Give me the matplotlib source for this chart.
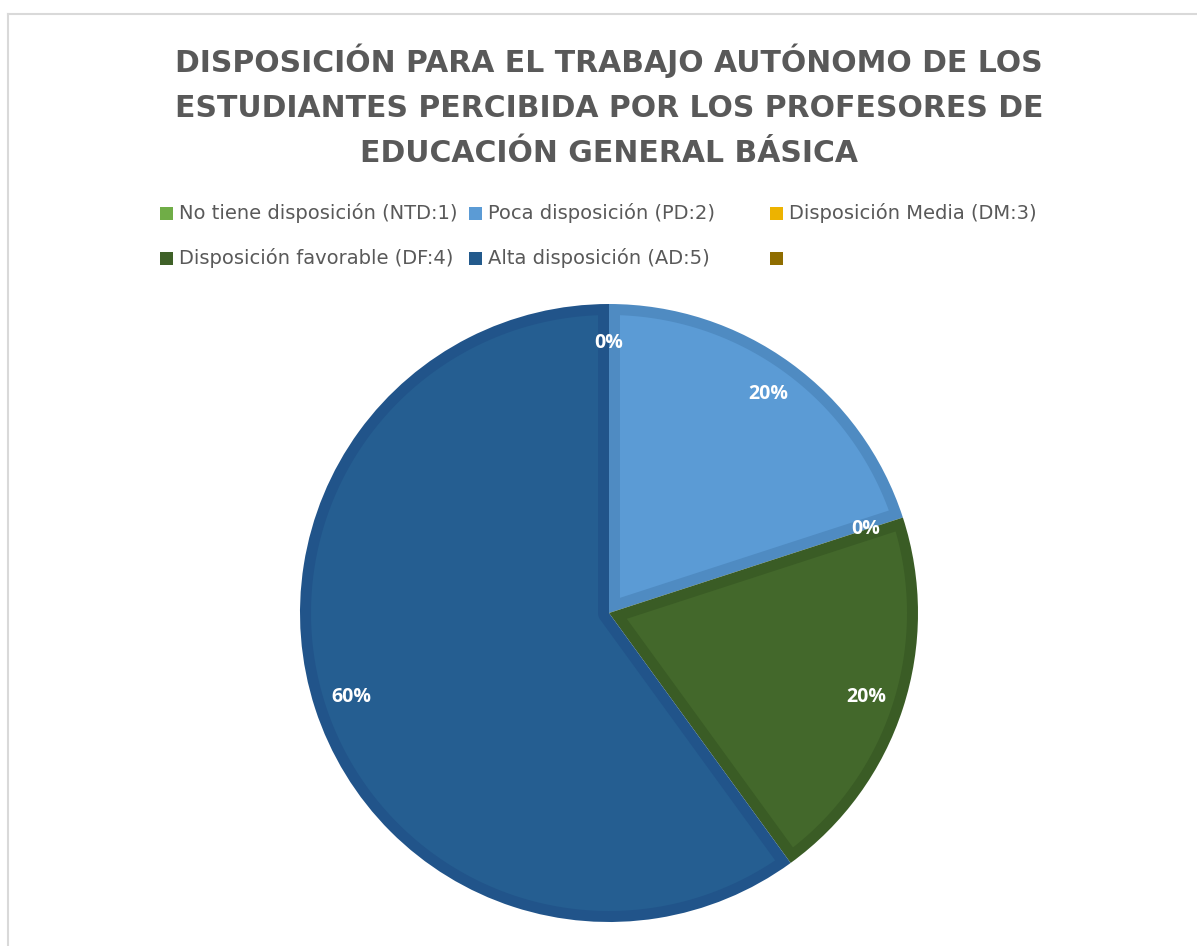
import numpy as np
import matplotlib.pyplot as plt
from matplotlib.patches import Rectangle, Polygon
from matplotlib.lines import Line2D

# Data
categories = ['No tiene disposición (NTD:1)', 'Poca disposición (PD:2)', 'Disposición Media (DM:3)',
              'Disposición favorable (DF:4)', 'Alta disposición (AD:5)', '']
values = [0, 20, 0, 20, 60, 0]
show_label = [True, True, True, True, True, False]

colors = ['#70AD47', '#5B9BD5', '#FFC000', '#43682B', '#255E91', '#8F6D00']
band_colors = ['#62993D', '#4F8BC2', '#E0A800', '#3A5C25', '#21548A', '#7A5D00']
legend_colors = ['#70AD47', '#5B9BD5', '#EDB300', '#3F6128', '#235A8C', '#8F6D00']

W, H = 1197, 946
fig = plt.figure(figsize=(W / 100, H / 100), dpi=100)
fig.patch.set_facecolor('white')

# chart frame (left and top edge visible)
fig.add_artist(Line2D([8 / W, 8 / W], [0, 1 - 14 / H], color='#D9D9D9', lw=1.5))
fig.add_artist(Line2D([8 / W, 1], [1 - 14 / H, 1 - 14 / H], color='#D9D9D9', lw=1.5))

# title
fig.text(609 / W, 1 - 106 / H,
         'DISPOSICIÓN PARA EL TRABAJO AUTÓNOMO DE LOS\nESTUDIANTES PERCIBIDA POR LOS PROFESORES DE\nEDUCACIÓN GENERAL BÁSICA',
         ha='center', va='center', fontsize=21.5, fontweight='bold',
         color='#595959', family='DejaVu Sans', linespacing=1.7)

# legend, drawn by hand to match the spreadsheet layout
col_x = [160, 469, 770]
row_y = [213, 258]
for i, (lab, col) in enumerate(zip(categories, legend_colors)):
    r, c = divmod(i, 3)
    x0, y0 = col_x[c], row_y[r]
    fig.add_artist(Rectangle((x0 / W, 1 - (y0 + 7) / H), 13 / W, 13 / H,
                             transform=fig.transFigure, facecolor=col, edgecolor='none'))
    fig.text((x0 + 19) / W, 1 - y0 / H, lab, ha='left', va='center', fontsize=14,
             color='#595959', family=['Liberation Sans Narrow', 'DejaVu Sans'])

# pie
cx, cy, R = 609, 613, 309
ax = fig.add_axes([(cx - R) / W, (H - cy - R) / H, 2 * R / W, 2 * R / H])
wedges, texts, autotexts = ax.pie(values, colors=band_colors, startangle=90, counterclock=False,
                                  autopct='%1.0f%%', pctdistance=0.875, radius=1,
                                  wedgeprops=dict(linewidth=0),
                                  textprops=dict(color='white', fontsize=14, fontweight='bold',
                                                 family='Open Sans'))


def inset_sector(t1, t2, r, d):
    # polygon of the sector (t1..t2 degrees, ccw) shrunk inward by d
    a1, a2 = np.radians(t1), np.radians(t2)
    span = a2 - a1
    ri = r - d
    off = np.arcsin(d / ri)
    arc = np.linspace(a1 + off, a2 - off, 200)
    pts = [(ri * np.cos(a), ri * np.sin(a)) for a in arc]
    if span < np.pi:
        m = (a1 + a2) / 2
        k = d / np.sin(span / 2)
        pts.append((k * np.cos(m), k * np.sin(m)))
    else:
        back = np.linspace(a2 - np.pi / 2, a1 + np.pi / 2, 60)
        pts += [(d * np.cos(a), d * np.sin(a)) for a in back]
    return pts


band = 11 / R
for w, c in zip(wedges, colors):
    if w.theta2 - w.theta1 > 1e-6:
        ax.add_patch(Polygon(inset_sector(w.theta1, w.theta2, 1, band), closed=True,
                             facecolor=c, edgecolor='none', zorder=w.get_zorder() + 0.1))
for t, s in zip(autotexts, show_label):
    t.set_visible(s)
    t.set_zorder(5)
ax.set_xlim(-1, 1)
ax.set_ylim(-1, 1)
ax.axis('off')

fig.savefig('out.png', dpi=100)
